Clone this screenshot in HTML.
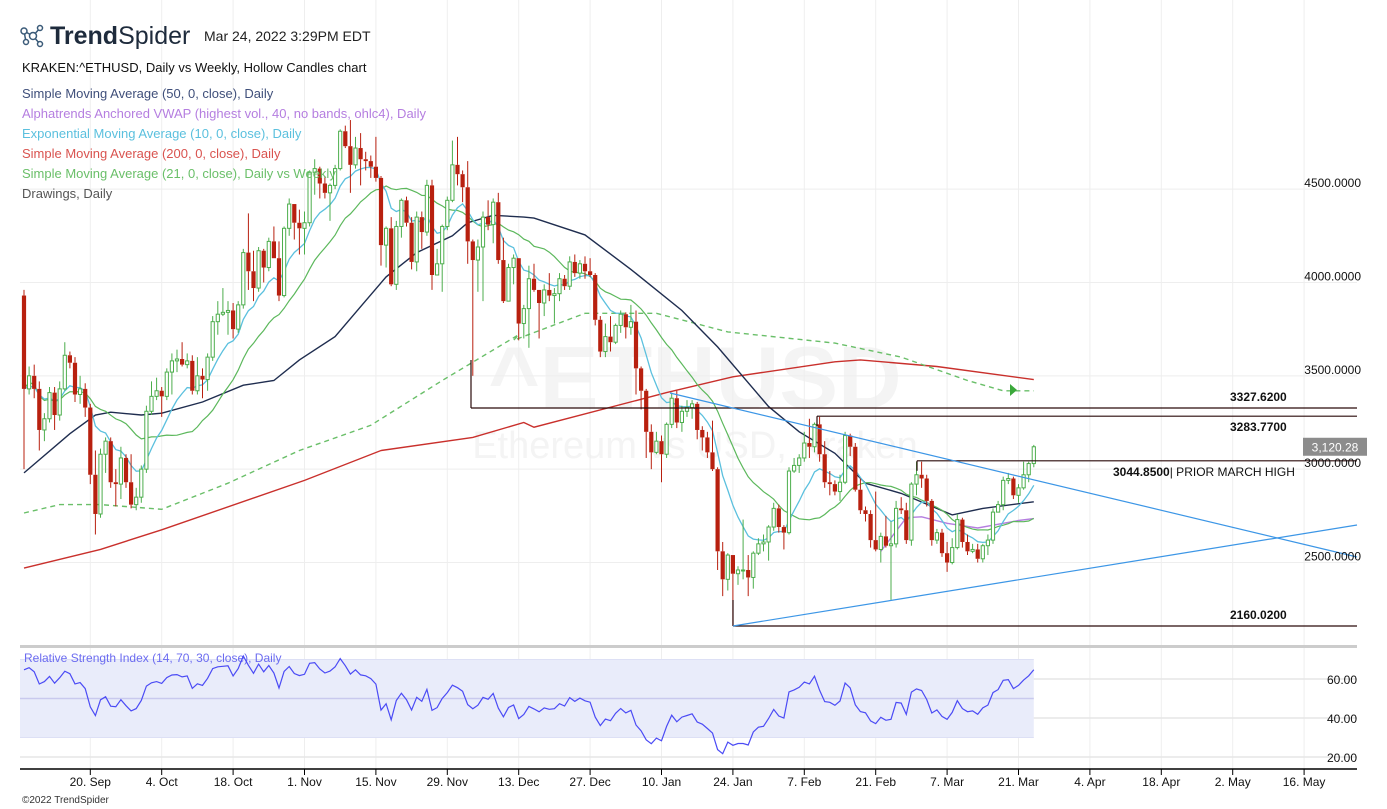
<!DOCTYPE html>
<html><head><meta charset="utf-8">
<style>
body{margin:0;background:#fff;font-family:"Liberation Sans",sans-serif;}
#wrap{position:relative;width:1387px;height:809px;overflow:hidden;}
svg text{font-family:"Liberation Sans",sans-serif;}
</style></head>
<body>
<div id="wrap">
<svg id="chart" width="1387" height="809" xmlns="http://www.w3.org/2000/svg">
  <g>
    <text x="695" y="408" font-size="88" font-weight="bold" fill="#f4f4f4" text-anchor="middle">^ETHUSD</text>
    <text x="695" y="458" font-size="38" fill="#f4f4f4" text-anchor="middle">Ethereum vs USD, Kraken</text>
  </g>
  <g id="grid"></g>
  <g id="rsiPane"></g>
  <g id="lines"></g>
  <g id="candles"></g>
  <g id="drawings"></g>
  <g id="axes"></g>
  <g>
    <g stroke="#3a5a78" stroke-width="1.5" fill="none">
      <line x1="24" y1="31" x2="33" y2="36"/><line x1="33" y1="36" x2="40" y2="28"/><line x1="33" y1="36" x2="40" y2="44"/><line x1="24" y1="31" x2="26" y2="42"/>
      <circle cx="24" cy="31" r="3" fill="#fff"/><circle cx="33" cy="36" r="3.5" fill="#fff"/><circle cx="40" cy="28" r="2.5" fill="#fff"/><circle cx="40" cy="44" r="2.5" fill="#fff"/><circle cx="26" cy="42" r="2.5" fill="#fff"/>
    </g>
    <text x="50" y="44" font-size="25" fill="#1e2b3c"><tspan font-weight="bold">Trend</tspan>Spider</text>
    <text x="204" y="41" font-size="14" fill="#222">Mar 24, 2022 3:29PM EDT</text>
    <text x="22" y="72" font-size="13" fill="#111">KRAKEN:^ETHUSD, Daily vs Weekly, Hollow Candles chart</text>
    <text x="22" y="98" font-size="13" fill="#3f4f7a">Simple Moving Average (50, 0, close), Daily</text>
    <text x="22" y="118" font-size="13" fill="#b57ee0">Alphatrends Anchored VWAP (highest vol., 40, no bands, ohlc4), Daily</text>
    <text x="22" y="138" font-size="13" fill="#5bc0de">Exponential Moving Average (10, 0, close), Daily</text>
    <text x="22" y="158" font-size="13" fill="#d9534f">Simple Moving Average (200, 0, close), Daily</text>
    <text x="22" y="178" font-size="13" fill="#6abf69">Simple Moving Average (21, 0, close), Daily vs Weekly</text>
    <text x="22" y="198" font-size="13" fill="#555">Drawings, Daily</text>
  </g>
  <text x="22" y="803" font-size="10" fill="#333">©2022 TrendSpider</text>
</svg>
</div>
<script>
const closes=[3430,3500,3430,3210,3270,3410,3290,3430,3610,3570,3400,3430,3330,2970,2760,3080,3150,2930,2920,3060,2930,2810,2850,3000,
3310,3390,3420,3390,3520,3580,3590,3560,3580,3420,3500,3480,3600,3790,3830,3840,3850,3750,3880,4160,4060,3970,4170,4080,4220,4130,3930,4290,4420,4320,4290,
4320,4590,4610,4530,4480,4520,4610,4810,4730,4630,4720,4660,4650,4620,4560,4200,4290,3990,4300,4440,4320,4110,4350,4270,4520,4040,4100,4300,4440,4630,
4580,4510,4220,4120,4190,4350,4310,4430,4120,3900,4080,4130,3780,3860,4020,3960,3890,3960,3930,3940,4020,3980,4110,4050,4100,4060,4040,3800,3630,3710,3680,
3770,3830,3760,3790,3540,3420,3200,3090,3150,3080,3240,3380,3250,3310,3330,3350,3210,3170,3090,3000,2560,2410,2540,2440,2460,2460,2420,2550,2600,2610,2690,
2790,2690,2660,2990,3020,3060,3140,3120,3240,3080,2930,2920,2880,2930,3180,3120,2890,2780,2760,2620,2570,2640,2590,2600,2790,2780,2620,2920,
2970,2950,2830,2620,2660,2550,2500,2580,2730,2610,2560,2570,2520,2590,2620,2770,2810,2940,2950,2860,2900,2970,3030,3120];
const firstOpen=3930;
const highs=[3960,3550,3560,3470,3300,3440,3440,3470,3680,3630,3600,3500,3460,3350,3100,3110,3170,3170,3000,3120,3080,3080,2900,3020,
3340,3470,3490,3440,3540,3620,3640,3680,3620,3610,3600,3540,3620,3820,3900,3970,3900,3890,3900,4180,4370,4170,4190,4180,4240,4300,4220,4300,4450,4420,4390,
4380,4600,4660,4620,4570,4530,4630,4820,4840,4870,4780,4800,4700,4680,4780,4570,4300,4350,4330,4450,4460,4350,4380,4380,4550,4550,4180,4310,4460,4760,
4780,4600,4650,4230,4230,4380,4440,4450,4480,4240,4100,4150,4130,3880,4090,4100,3960,3990,4050,3970,4050,4040,4140,4150,4120,4140,4130,4050,3820,3780,3820,
3780,3850,3840,3880,3850,3550,3430,3240,3200,3180,3250,3410,3420,3340,3370,3370,3360,3230,3200,3260,3010,2610,2550,2540,2480,2730,2540,2560,2630,2650,2700,
2820,2810,2700,3010,3060,3080,3200,3270,3250,3280,3150,2990,2940,2970,3200,3190,3140,2950,2800,2780,2880,2660,2750,2720,2830,2850,2820,2930,
3040,3040,2970,2840,2680,2680,2610,2630,2760,2740,2650,2600,2600,2600,2650,2790,2830,2960,2980,2960,2920,3040,3040,3130];
const lows=[3000,3400,3380,3100,3150,3250,3210,3260,3420,3540,3360,3350,3280,2920,2650,2740,2980,2900,2800,2840,2900,2790,2780,2820,
2980,3290,3370,3280,3370,3400,3520,3550,3540,3400,3400,3380,3420,3580,3720,3820,3720,3700,3730,3860,3960,3900,3950,4000,4060,4130,3900,3920,4250,4230,4150,
4150,4300,4470,4450,4450,4330,4500,4600,4720,4480,4610,4520,4600,4560,4540,4090,4080,3980,3960,4240,4300,4070,4060,4180,4250,3960,4040,3950,4280,4430,
4520,4430,4100,3500,3950,3900,4280,4210,4100,3890,3900,3990,3690,3700,3650,3950,3700,3820,3900,3780,3900,3960,3960,4030,4020,4020,4030,3770,3600,3600,3630,
3670,3730,3700,3720,3400,3320,3060,3000,3080,2930,3060,3220,3220,3200,3280,3270,3160,3100,3060,2990,2460,2320,2350,2160,2380,2410,2320,2360,2540,2560,2510,
2670,2660,2570,2650,2980,2980,3040,3060,3090,3040,2900,2860,2860,2830,2920,3070,2880,2760,2720,2580,2560,2500,2580,2300,2580,2760,2600,2590,
2860,2900,2800,2590,2600,2530,2450,2490,2570,2580,2540,2550,2500,2500,2540,2600,2770,2780,2920,2840,2820,2890,2930,3010];
const sma50Idx=[0,9,14,17,23,27,35,43,49,54,61,66,71,77,84,87,92,98,100,110,119,129,136,146,152,159,165,172,182,188,198];
const sma50Val=[2980,3190,3290,3305,3290,3300,3360,3450,3475,3585,3710,3870,4030,4160,4250,4320,4360,4350,4345,4255,4070,3850,3655,3335,3200,3085,2925,2870,2755,2790,2825];
const sma200Idx=[0,15,27,55,70,88,98,100,126,139,159,164,179,198];
const sma200Val=[2470,2570,2675,2940,3100,3170,3250,3225,3410,3495,3575,3585,3550,3480];
const wsmaIdx=[0,7,15,27,40,54,68,82,97,96,110,124,138,159,172,185,192,198];
const wsmaVal=[2765,2810,2810,2785,2925,3100,3235,3475,3720,3690,3835,3835,3735,3675,3600,3475,3420,3420];
const vwapIdx=[168,173,176,181,187,195,198];
const vwapVal=[2560,2740,2745,2710,2685,2725,2735];
const tickDays=[13,27,41,55,69,83,97,111,125,139,153,167,181,195,209,223,237,251];
const tickLabels=["20. Sep","4. Oct","18. Oct","1. Nov","15. Nov","29. Nov","13. Dec","27. Dec","10. Jan","24. Jan","7. Feb","21. Feb","7. Mar","21. Mar","4. Apr","18. Apr","2. May","16. May"];
const priceTicks=[2500,3000,3500,4000,4500];
const rsiTicks=[20,40,60];

const NS="http://www.w3.org/2000/svg";
const X=i=>24+i*5.1;
const Y=p=>408-(p-3327.62)*0.1867;
const YR=v=>679-(v-60)*1.95;
function mk(tag,attrs,parent){const e=document.createElementNS(NS,tag);for(const k in attrs)e.setAttribute(k,attrs[k]);parent.appendChild(e);return e;}
const grid=document.getElementById('grid'),axes=document.getElementById('axes'),lines=document.getElementById('lines'),
candles=document.getElementById('candles'),drawings=document.getElementById('drawings'),rsiPane=document.getElementById('rsiPane');

tickDays.forEach((d,k)=>{
  const x=X(d);
  const gl=mk('line',{x1:x,y1:0,x2:x,y2:769,stroke:'#eeeeee','stroke-width':1},grid);
  
  
  const tk=mk('line',{x1:x,y1:769,x2:x,y2:775,stroke:'#000','stroke-width':1},axes);
  
  
  const t=mk('text',{x:x,y:786,'font-size':12,'text-anchor':'middle',fill:'#111'},axes);
  t.textContent=tickLabels[k];
  
  
});
priceTicks.forEach(p=>{
  const y=Y(p);
  const gl=mk('line',{x1:20,y1:y,x2:1357,y2:y,stroke:'#eeeeee','stroke-width':1},grid);
  
  
  const t=mk('text',{x:1361,y:y-2,'font-size':12,'text-anchor':'end',fill:'#111'},axes);
  t.textContent=p.toFixed(4);
  
  
});
let sep=mk('rect',{x:20,y:645,width:1337,height:3,fill:'#cccccc'},axes);


let ax=mk('line',{x1:20,y1:769,x2:1357,y2:769,stroke:'#000','stroke-width':1.5},axes);



const lastX=X(closes.length-1);
let band=mk('rect',{x:20,y:YR(70),width:lastX-20,height:YR(30)-YR(70),fill:'#e9ecfa'},rsiPane);


[70,30].forEach(v=>{const l=mk('line',{x1:20,y1:YR(v),x2:lastX,y2:YR(v),stroke:'#dde0f5','stroke-width':1},rsiPane);
 
 });
let mid=mk('line',{x1:20,y1:YR(50),x2:lastX,y2:YR(50),stroke:'#c9c9ee','stroke-width':1.5},rsiPane);


rsiTicks.forEach(v=>{
  const g=mk('line',{x1:20,y1:YR(v),x2:1357,y2:YR(v),stroke:'#e6e6e6','stroke-width':1.5},grid);
  
  
  const t=mk('text',{x:1357,y:YR(v)+5,'font-size':12,'text-anchor':'end',fill:'#111'},axes);
  t.textContent=v.toFixed(2);
  
  
});
let rl=mk('text',{x:24,y:662,'font-size':12,fill:'#6b6bf0'},rsiPane);
rl.textContent='Relative Strength Index (14, 70, 30, close), Daily';


(function(){
  const opens=[firstOpen].concat(closes.slice(0,-1));
  let ag=110,al=60,pts=[];
  for(let i=0;i<closes.length;i++){
    const ch=closes[i]-opens[i];
    const g=Math.max(ch,0),l=Math.max(-ch,0);
    if(i===0){ag=ag;al=al;}else{ag=(ag*13+g)/14;al=(al*13+l)/14;}
    const rsi=al===0?100:100-100/(1+ag/al);
    pts.push(X(i).toFixed(1)+','+YR(Math.max(15,Math.min(85,rsi))).toFixed(1));
  }
  const pl=mk('polyline',{points:pts.join(' '),fill:'none',stroke:'#4b4bf5','stroke-width':1.2},rsiPane);
  
  
})();

function sampled(idx,val,color,name,dash,w){
  const pts=idx.map((d,k)=>X(d).toFixed(1)+','+Y(val[k]).toFixed(1)).join(' ');
  const attrs={points:pts,fill:'none',stroke:color,'stroke-width':w||1.4};
  if(dash)attrs['stroke-dasharray']=dash;
  const pl=mk('polyline',attrs,lines);
  
  
}
sampled(sma200Idx,sma200Val,'#c9302c','sma200-line');
sampled(wsmaIdx,wsmaVal,'#6abf69','sma21-weekly-line','5,4');
sampled(sma50Idx,sma50Val,'#1f2d4f','sma50-line');
sampled(vwapIdx,vwapVal,'#b57ee0','vwap-line');
(function(){
  let ema=null,e=[],s=[];
  const k=2/11;
  for(let i=0;i<closes.length;i++){
    ema=ema===null?closes[i]:closes[i]*k+ema*(1-k);
    e.push(X(i).toFixed(1)+','+Y(ema).toFixed(1));
    const a=closes.slice(Math.max(0,i-20),i+1);
    s.push(X(i).toFixed(1)+','+Y(a.reduce((p,c)=>p+c,0)/a.length).toFixed(1));
  }
  const p1=mk('polyline',{points:s.join(' '),fill:'none',stroke:'#5cb85c','stroke-width':1.2},lines);
  
  
  const p2=mk('polyline',{points:e.join(' '),fill:'none',stroke:'#5bc0de','stroke-width':1.3},lines);
  
  
})();
let arrow=mk('polygon',{points:'1010,384 1010,396 1017,390',fill:'#3aa83a'},lines);



closes.forEach((c,i)=>{
  const o=i===0?firstOpen:closes[i-1];
  const up=c>=o, x=X(i);
  const col=up?'#4cae4c':'#b8200f';
  const g=mk('g',{},candles);
  
  
  const top=Y(Math.max(o,c)),bot=Y(Math.min(o,c));
  mk('line',{x1:x,y1:Y(highs[i]),x2:x,y2:top,stroke:col,'stroke-width':1},g);
  mk('line',{x1:x,y1:bot,x2:x,y2:Y(lows[i]),stroke:col,'stroke-width':1},g);
  const h=Math.max(bot-top,1);
  if(up)mk('rect',{x:x-1.6,y:top,width:3.2,height:h,fill:'#fff',stroke:col,'stroke-width':1},g);
  else mk('rect',{x:x-2.1,y:top,width:4.2,height:h,fill:col},g);
});

function dl(x1,y1,x2,y2,col,name,w){const l=mk('line',{x1,y1,x2,y2,stroke:col,'stroke-width':w||1.2},drawings);
 
 }
dl(471,360,471,Y(3327.62),'#2a0a0a','level-3327-vertical');
dl(471,Y(3327.62),1357,Y(3327.62),'#2a0a0a','level-3327-line');
dl(817,Y(3283.77),817,Y(3283.77)+10,'#2a0a0a','level-3283-vertical');
dl(817,Y(3283.77),1357,Y(3283.77),'#2a0a0a','level-3283-line');
dl(917,Y(3044.85),917,Y(3044.85)+10,'#2a0a0a','level-3044-vertical');
dl(917,Y(3044.85),1357,Y(3044.85),'#2a0a0a','level-3044-line');
dl(733,Y(2160.02)-26,733,Y(2160.02),'#2a0a0a','level-2160-vertical');
dl(733,Y(2160.02),1357,Y(2160.02),'#2a0a0a','level-2160-line');
dl(670,393,1357,557,'#3c96e6','descending-trendline');
dl(733,626,1357,525,'#3c96e6','ascending-trendline');
function lbl(x,y,txt,name){const t=mk('text',{x,y,'font-size':12,fill:'#111','font-weight':'bold'},drawings);t.textContent=txt;
 
 return t;}
lbl(1230,401,'3327.6200','level-3327-label');
lbl(1230,431,'3283.7700','level-3283-label');
const t3=lbl(1113,476,'3044.8500','level-3044-label');
const ts=document.createElementNS(NS,'tspan');ts.setAttribute('font-weight','normal');ts.textContent='| PRIOR MARCH HIGH';t3.appendChild(ts);
lbl(1230,619,'2160.0200','level-2160-label');
const lp=closes[closes.length-1];
let tag=mk('rect',{x:1303,y:Y(lp)-9,width:64,height:18,fill:'#8c8c8c'},axes);


let tt=mk('text',{x:1335,y:Y(lp)+4.5,'font-size':12,fill:'#fff','text-anchor':'middle'},axes);
tt.textContent='3,120.28';


</script>
</body></html>
